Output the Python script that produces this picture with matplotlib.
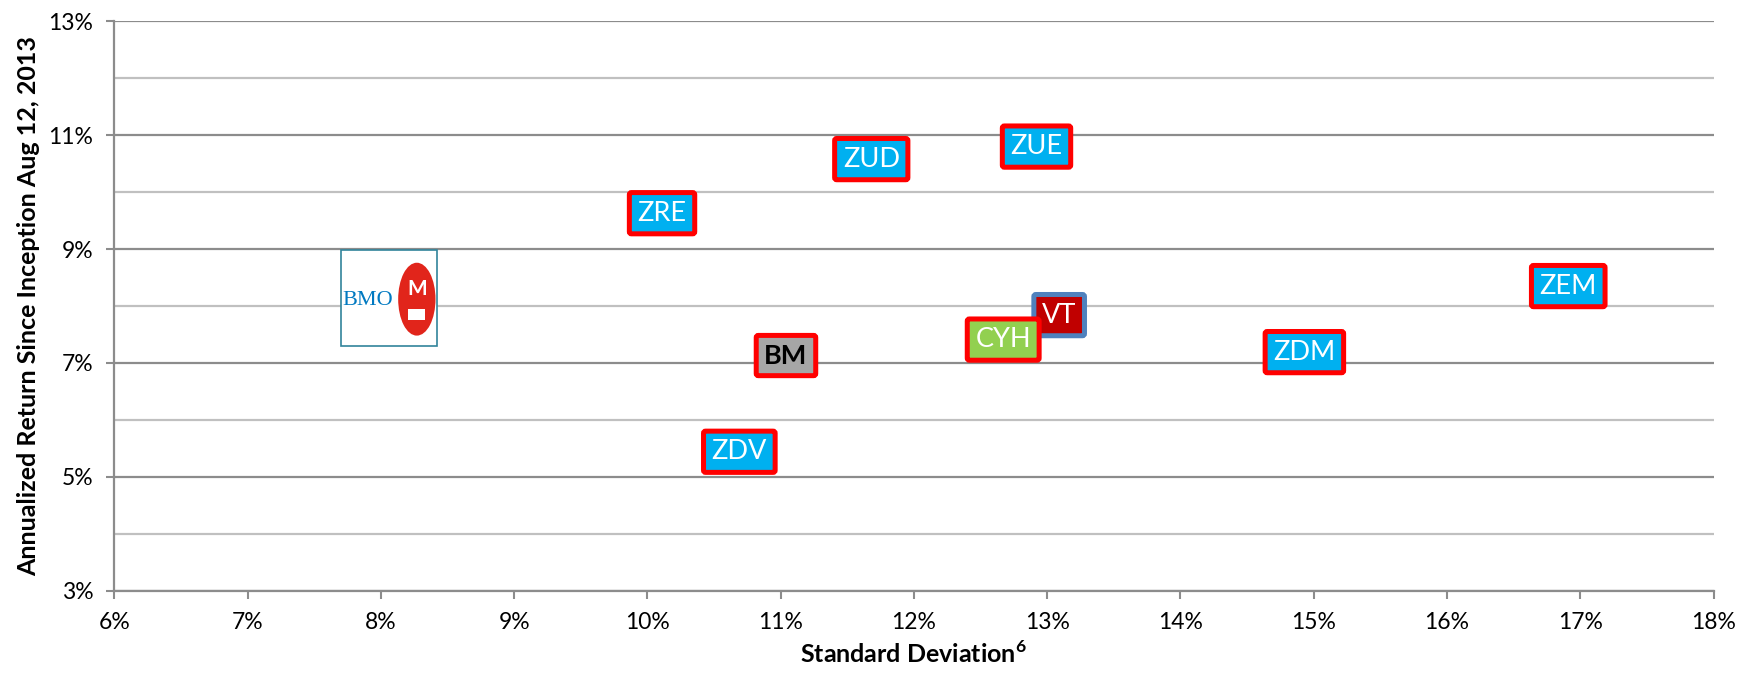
import matplotlib.pyplot as plt
from matplotlib.patches import Ellipse, Rectangle
from matplotlib.ticker import FuncFormatter

# data
tickers = ["ZRE", "ZUD", "ZUE", "ZEM", "VT", "CYH", "BM", "ZDM", "ZDV"]
std_dev = [10.11, 11.68, 12.92, 16.91, 13.09, 12.67, 11.04, 14.93, 10.69]
annual_return = [9.63, 10.58, 10.80, 8.35, 7.84, 7.41, 7.13, 7.19, 5.44]

x_ticks = list(range(6, 19))
y_ticks = [3, 5, 7, 9, 11, 13]
y_minor = [4, 6, 8, 10, 12]

# styles per label
face_colors = {"VT": "#C00000", "CYH": "#92D050", "BM": "#A6A6A6"}
edge_colors = {"VT": "#4F81BD"}
text_colors = {"BM": "black"}

plt.rcParams['font.family'] = ['Lato', 'DejaVu Sans']
plt.rcParams['mathtext.fontset'] = 'custom'
plt.rcParams['mathtext.bf'] = 'Lato:bold'

fig = plt.figure(figsize=(17.56, 6.77), dpi=100)
ax = fig.add_axes([0.0651, 0.1275, 0.9107, 0.841])

ax.set_xlim(6, 18)
ax.set_ylim(3, 13)

for v in y_ticks:
    ax.axhline(v, color="#8C8C8C", lw=1.6, zorder=1)
for v in y_minor:
    ax.axhline(v, color="#C0C0C0", lw=1.6, zorder=1)

ax.set_xticks(x_ticks)
ax.set_yticks(y_ticks)
pct = FuncFormatter(lambda v, p: "%d%%" % round(v))
ax.xaxis.set_major_formatter(pct)
ax.yaxis.set_major_formatter(pct)
ax.tick_params(axis="both", labelsize=16.5, color="#8C8C8C", length=6, width=1.5)
ax.tick_params(axis="x", pad=9)
ax.tick_params(axis="y", pad=9)

for side in ["top", "right"]:
    ax.spines[side].set_visible(False)
for side in ["left", "bottom"]:
    ax.spines[side].set_color("#8C8C8C")
    ax.spines[side].set_linewidth(1.6)

ax.set_xlabel("Standard Deviation$^{\\mathbf{6}}$", fontsize=18, fontweight="bold", labelpad=6)
ax.set_ylabel("Annualized Return Since Inception Aug 12, 2013", fontsize=18,
              fontweight="bold", labelpad=6)

for name, x, y in zip(tickers, std_dev, annual_return):
    fc = face_colors.get(name, "#00B0F0")
    ec = edge_colors.get(name, "#FF0000")
    tc = text_colors.get(name, "white")
    fw = "bold" if name == "BM" else "normal"
    ax.text(x, y, name, ha="center", va="center", fontsize=19.5, color=tc,
            fontweight=fw, zorder=5,
            bbox=dict(boxstyle="round,pad=0.3,rounding_size=0.08", fc=fc, ec=ec, lw=3.6))

# BMO logo
ax.add_patch(Rectangle((7.7, 7.3), 0.72, 1.68, fc="white", ec="#31849B", lw=1.2, zorder=4))
ax.text(7.9, 8.1, "BMO", ha="center", va="center", fontsize=16, color="#0079C1",
        family="Liberation Serif", zorder=5)
ax.add_patch(Ellipse((8.27, 8.12), 0.28, 1.28, fc="#E1251B", ec="none", zorder=5))
ax.text(8.27, 8.3, "M", ha="center", va="center", fontsize=15, color="white",
        fontweight="bold", zorder=6)
ax.add_patch(Rectangle((8.205, 7.75), 0.13, 0.2, fc="white", ec="none", zorder=6))

plt.savefig("out.png", dpi=100)
